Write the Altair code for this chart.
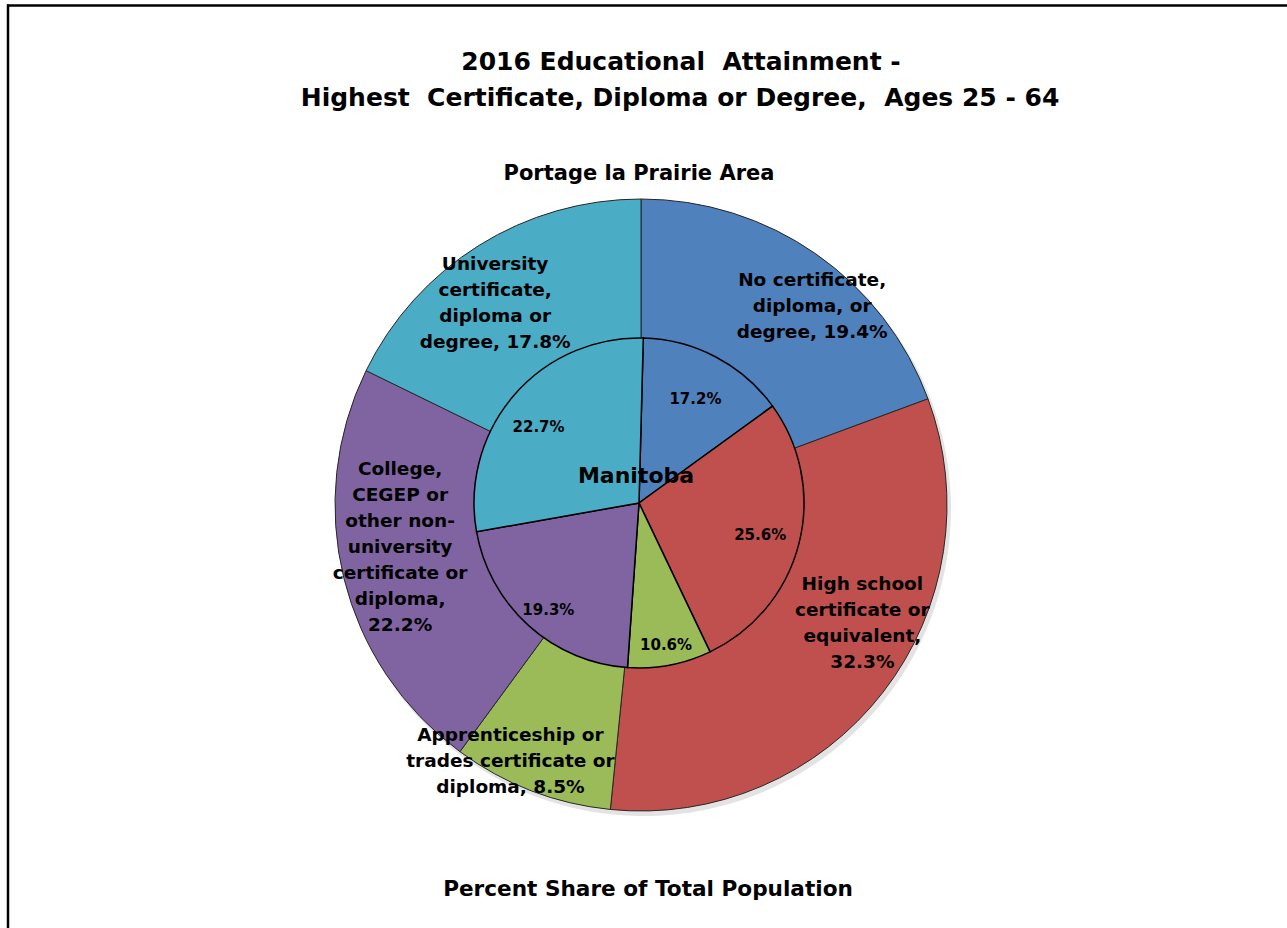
import altair as alt
import pandas as pd

# ---------------- data ----------------
categories = [
    "No certificate, diploma, or degree",
    "High school certificate or equivalent",
    "Apprenticeship or trades certificate or diploma",
    "College, CEGEP or other non-university certificate or diploma",
    "University certificate, diploma or degree",
]
colors = ["#4F81BD", "#C0504D", "#9BBB59", "#8064A2", "#4BACC6"]

# Portage la Prairie Area (outer ring)
portage_share = [19.4, 32.3, 8.5, 22.2, 17.8]
portage_labels = [
    "No certificate,\ndiploma, or\ndegree, 19.4%",
    "High school\ncertificate or\nequivalent,\n32.3%",
    "Apprenticeship or\ntrades certificate or\ndiploma, 8.5%",
    "College,\nCEGEP or\nother non-\nuniversity\ncertificate or\ndiploma,\n22.2%",
    "University\ncertificate,\ndiploma or\ndegree, 17.8%",
]

# Manitoba (inner pie): wedge sizes as drawn, and the printed labels
manitoba_share = [14.6, 27.9, 8.2, 21.1, 28.2]
manitoba_labels = ["17.2%", "25.6%", "10.6%", "19.3%", "22.7%"]

NB = "\u00a0"
title_lines = [
    "2016 Educational" + NB + " Attainment -",
    "Highest" + NB + " Certificate, Diploma or Degree," + NB + " Ages 25 - 64",
]
ring_title = "Portage la Prairie Area"
center_title = "Manitoba"
footer = "Percent Share of Total Population"

# ---------------- layout constants ----------------
W, H = 1287, 928
OCX, OCY, OR = 641, 505, 306
ICX, ICY, IR = 639, 503, 165
FONT = "DejaVu Sans"

outer_df = pd.DataFrame({
    "category": categories, "share": portage_share,
    "order": list(range(5)), "label": portage_labels,
})
inner_df = pd.DataFrame({
    "category": categories, "share": manitoba_share,
    "order": list(range(5)), "label": manitoba_labels,
})

color_scale = alt.Scale(domain=categories, range=colors)
TWO_PI = 6.283185307179586

shadow = alt.Chart(outer_df).mark_arc(radius=OR + 1, color="#c8c8c8", opacity=0.5).encode(
    theta=alt.Theta("share:Q", stack=True),
    order=alt.Order("order:Q"),
    x=alt.value(OCX + 3), y=alt.value(OCY + 4),
)

outer = alt.Chart(outer_df).mark_arc(radius=OR, stroke="#262626", strokeWidth=1).encode(
    theta=alt.Theta("share:Q", stack=True),
    color=alt.Color("category:N", scale=color_scale, legend=None),
    order=alt.Order("order:Q"),
    x=alt.value(OCX), y=alt.value(OCY),
)

START = 0.026
inner = alt.Chart(inner_df).mark_arc(radius=IR, stroke="#000000", strokeWidth=1.5).encode(
    theta=alt.Theta("share:Q", stack=True,
                    scale=alt.Scale(domain=[0, 100], range=[START, START + TWO_PI])),
    color=alt.Color("category:N", scale=color_scale, legend=None),
    order=alt.Order("order:Q"),
    x=alt.value(ICX), y=alt.value(ICY),
)


def label_layers(df, total, cx, cy, start, settings, size):
    base = alt.Chart(df).transform_window(
        cum="sum(share)", sort=[alt.SortField("order")], frame=[None, 0]
    ).transform_calculate(mid="datum.cum - datum.share / 2")
    layers = []
    for i, (r, dx, dy) in enumerate(settings):
        layers.append(
            base.transform_filter(alt.datum.order == i).mark_text(
                radius=r, dx=dx, dy=dy, font=FONT, fontSize=size, fontWeight="bold",
                lineBreak="\n", lineHeight=26, align="center", baseline="middle",
                color="#000000",
            ).encode(
                theta=alt.Theta("mid:Q", scale=alt.Scale(domain=[0, total],
                                                         range=[start, start + TWO_PI])),
                text="label:N",
                x=alt.value(cx), y=alt.value(cy),
            )
        )
    return layers


outer_settings = [(261, 22, -11), (247, 26, -72), (286, -28, -37), (244, -4, -94), (249, -14, -30)]
inner_settings = [(119, 1, 1), (125, 0, 1), (145, 0, 0), (140, 3, 3), (126, -5, 6)]

outer_labels = label_layers(outer_df, sum(portage_share), OCX, OCY, 0, outer_settings, 18.5)
inner_labels = label_layers(inner_df, sum(manitoba_share), ICX, ICY, START, inner_settings, 15)

one = pd.DataFrame({"a": [0]})


def text_at(txt, x, y, size):
    return alt.Chart(pd.DataFrame({"t": [txt]})).mark_text(
        font=FONT, fontSize=size, fontWeight="bold", align="center", baseline="middle",
        color="#000000",
    ).encode(text="t:N", x=alt.value(x), y=alt.value(y))


texts = [
    text_at(title_lines[0], 681, 62, 25),
    text_at(title_lines[1], 680, 98, 25),
    text_at(ring_title, 639, 174, 21),
    text_at(footer, 648, 890, 21.6),
    text_at(center_title, 636, 476, 22),
]

frame_top = alt.Chart(one).mark_rule(color="#000000", strokeWidth=2.5).encode(
    x=alt.value(7), x2=alt.value(W), y=alt.value(5.5))
frame_left = alt.Chart(one).mark_rule(color="#000000", strokeWidth=2.5).encode(
    x=alt.value(8), y=alt.value(4.5), y2=alt.value(H))

chart = alt.layer(
    frame_top, frame_left, shadow, outer, inner, *outer_labels, *inner_labels, *texts
).resolve_scale(theta="independent").properties(
    width=W, height=H, autosize=alt.AutoSizeParams(type="none"), padding=0,
    background="white",
).configure_view(stroke=None)

chart.save("out.html", embed_options={"renderer": "svg", "actions": False})
